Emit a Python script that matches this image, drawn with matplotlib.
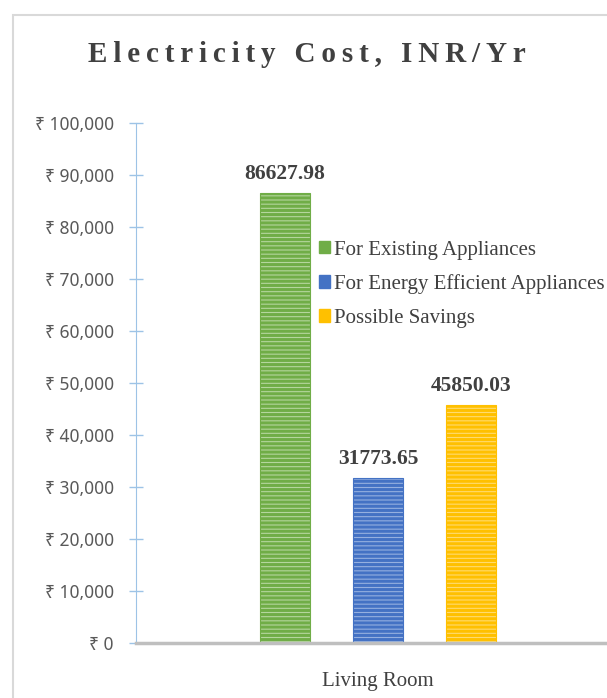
import matplotlib.pyplot as plt
from matplotlib.patches import Patch, Rectangle

category = 'Living Room'
series = ['For Existing Appliances', 'For Energy Efficient Appliances', 'Possible Savings']
values = [86627.98, 31773.65, 45850.03]
colors = ['#70ad47', '#4472c4', '#ffc000']
light = ['#b5d69e', '#95b0e0', '#ffdb70']
yticks = [0, 10000, 20000, 30000, 40000, 50000, 60000, 70000, 80000, 90000, 100000]

serif = 'Liberation Serif'
sans = ['Noto Sans', 'DejaVu Sans']

plt.rcParams['hatch.linewidth'] = 2.2

fig = plt.figure(figsize=(6.07, 6.98), dpi=100)
# chart border
fig.patches.append(Rectangle((13 / 607, -0.1), 1.2, 1 - 15 / 698 + 0.1, transform=fig.transFigure,
                             fill=False, edgecolor='#d9d9d9', linewidth=1.5))

ax = fig.add_axes([136 / 607, 55 / 698, 484 / 607, 520 / 698])

offsets = [-0.192, 0, 0.192]
for i in range(len(series)):
    b = ax.bar(offsets[i], values[i], width=0.105, color=light[i], edgecolor=colors[i],
               hatch='----', linewidth=0.8)
    ax.annotate(f'{values[i]:.2f}', (offsets[i], values[i]), xytext=(0, 6), textcoords='offset points',
                ha='center', va='bottom', fontsize=15.5, fontweight='bold', family=serif, color='#404040')

ax.set_xlim(-0.5, 0.5)
ax.set_ylim(0, 100000)
ax.set_yticks(yticks)
ax.set_yticklabels([f'\u20b9 {v:,}' for v in yticks], family=sans, fontsize=12.5, color='#595959')
ax.tick_params(axis='y', direction='inout', length=10, width=1, color='#9dc3e6', pad=11)
ax.set_xticks([])
ax.text(0, -0.055, category, transform=ax.get_xaxis_transform(), ha='center', va='top',
        family=serif, fontsize=15, color='#404040')

for s in ['top', 'right']:
    ax.spines[s].set_visible(False)
ax.spines['left'].set_color('#9dc3e6')
ax.spines['bottom'].set_color('#bfbfbf')
ax.spines['bottom'].set_linewidth(2.5)

handles = [Patch(facecolor=c, edgecolor=c) for c in colors]
ax.legend(handles, series, loc='upper left', bbox_to_anchor=(0.36, 0.79), frameon=False,
          prop={'family': serif, 'size': 15}, handlelength=0.55, handleheight=0.55, handletextpad=0.2,
          labelspacing=0.7, borderaxespad=0, labelcolor='#404040')

title = '\u2009'.join('Electricity Cost, INR/Yr')
fig.text(307 / 607, 1 - 55 / 698, title, ha='center', va='center', family=serif, fontweight='bold',
         fontsize=21, color='#404040')

fig.savefig('out.png', dpi=100)
